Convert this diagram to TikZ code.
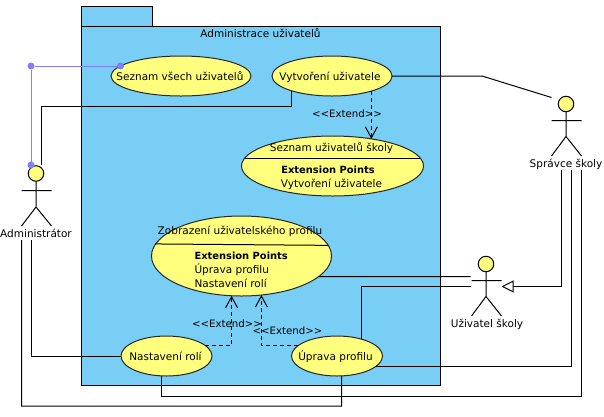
\documentclass[tikz,border=0pt]{standalone}
\usepackage{fontspec}
\setmainfont{DejaVu Sans}
\usetikzlibrary{arrows.meta,shapes.geometric}
\definecolor{pkgblue}{RGB}{120,206,245}
\definecolor{ucyellow}{RGB}{255,255,125}
\definecolor{bluesel}{RGB}{128,128,255}
\tikzset{
  pkg/.style={draw=black,fill=pkgblue,line width=1pt,rectangle,inner sep=0,outer sep=0},
  uc/.style={draw=black!85,fill=ucyellow,line width=1pt,ellipse,inner sep=0,outer sep=0},
  head/.style={draw=black,fill=ucyellow,line width=1pt,circle,inner sep=0,outer sep=0,minimum size=15.5pt},
  txt/.style={anchor=base,inner sep=0,outer sep=0,font=\fontsize{10.5pt}{12pt}\selectfont},
  txtb/.style={txt,font=\fontsize{9.9pt}{12pt}\selectfont\bfseries},
  txte/.style={txt,font=\fontsize{10.2pt}{12pt}\selectfont},
  assoc/.style={draw=black,line width=1pt},
  ext/.style={draw=black,line width=1pt,dash pattern=on 4pt off 3pt,-{Straight Barb[length=11pt,width=12pt,line width=1pt]}},
  gen/.style={draw=black,line width=1pt,-{Triangle[open,length=12pt,width=12pt,fill=white]}},
  sel/.style={draw=bluesel,line width=1pt},
  seldot/.style={circle,fill=bluesel,inner sep=0,outer sep=0,minimum size=7pt},
  stick/.style={draw=black,line width=1pt}
}
\begin{document}
\begin{tikzpicture}[x=1pt,y=-1pt]
\useasboundingbox (0,0) rectangle (604,416);
% package
\node[pkg,minimum width=71pt,minimum height=20pt] (tab) at (117,16.5) {};
\node[pkg,minimum width=359pt,minimum height=359pt] (pkgbody) at (261,206) {};
% use cases
\node[uc,minimum width=140pt,minimum height=40pt] (all) at (181,76) {};
\node[uc,minimum width=120pt,minimum height=40pt] (vyt) at (332,76) {};
\node[uc,minimum width=182pt,minimum height=60pt] (sez) at (332.5,166) {};
\node[uc,minimum width=180pt,minimum height=80pt] (zob) at (241.5,256) {};
\node[uc,minimum width=91pt,minimum height=40pt] (nas) at (166.5,356) {};
\node[uc,minimum width=91pt,minimum height=40pt] (upr) at (337,356) {};
\draw[assoc] (sez.175) -- (sez.5);
\draw[assoc] (zob.172.4) -- (zob.7.6);
% actors
\node[head] (admhead) at (36,173.5) {};
\node[head] (sprhead) at (566,104) {};
\node[head] (uzihead) at (486,264) {};
\draw[stick] (admhead.south) -- (36,207) -- (21.5,226) (36,207) -- (51.5,226) (21.5,190.5) -- (51.5,190.5);
\draw[stick] (sprhead.south) -- (566,136.5) -- (551.5,156) (566,136.5) -- (581.5,156) (551.5,120.5) -- (581.5,120.5);
\draw[stick] (uzihead.south) -- (486,296.5) -- (471.5,316) (486,296.5) -- (501.5,316) (471.5,280.5) -- (501.5,280.5);
% free ends at the actors
\coordinate (admtop) at (41.5,165);
\coordinate (admsel) at (31,165);
\coordinate (adma) at (31.5,240);
\coordinate (admb) at (21.5,240);
\coordinate (spra) at (551.5,97.5);
\coordinate (sprb) at (561.5,170);
\coordinate (sprc) at (571.5,170);
\coordinate (sprd) at (581.5,170);
\coordinate (uzia) at (470.5,276.5);
\coordinate (uzib) at (470.5,286.5);
\coordinate (uzic) at (501.5,286.5);
% associations
\draw[assoc] (vyt.200) |- (admtop |- 0,106.5) -- (admtop);
\draw[assoc] (vyt.east) -- (482,76) -- (spra);
\draw[assoc] (adma) |- (nas.west);
\draw[assoc] (admb) |- (341.5,406) -- (upr.283);
\draw[assoc] (nas.256) |- (581.5,396) -- (sprd);
\draw[assoc] (upr.345) -| (sprc);
\draw[assoc] (zob.345) -- (uzia);
\draw[assoc] (upr.34.4) |- (uzib);
\draw[gen] (sprb) |- (uzic);
% extends
\draw[ext] (vyt.339) -- (vyt.339 |- sez.35);
\draw[ext] (nas.15) -| (zob.256);
\draw[ext] (upr.165) -| (zob.297);
% selected link
\node[seldot] (d1) at (120.5,66) {};
\node[seldot] (d2) at (31,66) {};
\node[seldot] (d3) at (admsel) {};
\draw[sel] (d1) -- (d2) -- (d3);
% texts
\node[txt] (t0) at (260.5,37) {Administrace uživatelů};
\node[txt] (t1) at (180,80) {Seznam všech uživatelů};
\node[txt] (t2) at (330,80) {Vytvoření uživatele};
\node[txt] (t3) at (331.5,151) {Seznam uživatelů školy};
\node[txtb] (t4) at (328,173) {Extension Points};
\node[txt] (t5) at (331.5,187) {Vytvoření uživatele};
\node[txt] (t6) at (240,234) {Zobrazení uživatelského profilu};
\node[txtb,anchor=base west] (t7) at (194.5,259) {Extension Points};
\node[txt,anchor=base west] (t8) at (194.5,273) {Úprava profilu};
\node[txt,anchor=base west] (t9) at (194.5,287) {Nastavení rolí};
\node[txt] (t10) at (165.5,360) {Nastavení rolí};
\node[txt] (t11) at (335.5,360) {Úprava profilu};
\node[txt] (t12) at (36,237) {Administrátor};
\node[txt] (t13) at (566,167) {Správce školy};
\node[txt] (t14) at (487,327) {Uživatel školy};
\node[txte] (t15) at (347,117) {<{}<Extend>{}>};
\node[txte] (t16) at (227,327) {<{}<Extend>{}>};
\node[txte] (t17) at (287.5,334) {<{}<Extend>{}>};
\end{tikzpicture}
\end{document}
